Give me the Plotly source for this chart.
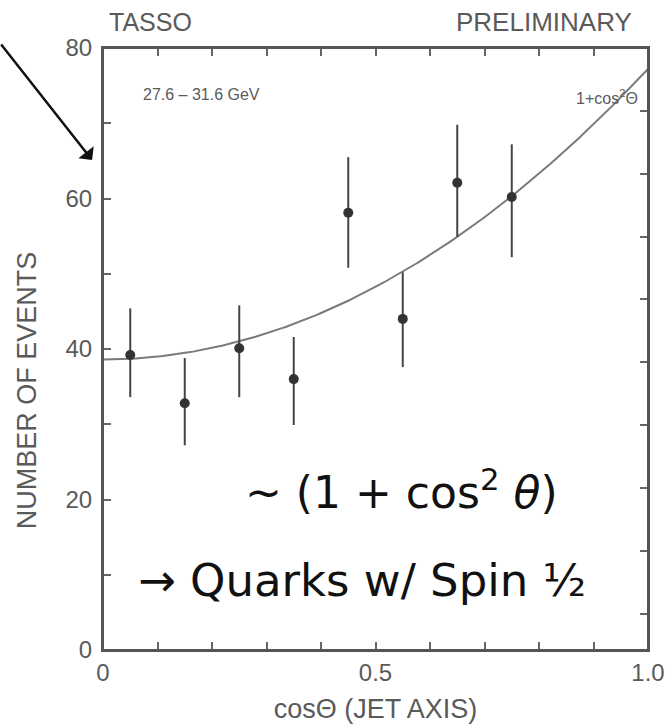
import numpy as np
import plotly.graph_objects as go

# Data
cos_theta = [0.05, 0.15, 0.25, 0.35, 0.45, 0.55, 0.65, 0.75]
events = [39.2, 32.8, 40.1, 36.0, 58.1, 44.0, 62.1, 60.2]
err_up = [6.2, 6.0, 5.7, 5.6, 7.4, 6.2, 7.7, 7.0]
err_dn = [5.6, 5.6, 6.5, 6.1, 7.3, 6.4, 7.2, 8.0]
fit_norm = 38.6  # A in A*(1+cos^2 theta)

x_ticks = [0, 0.5, 1.0]
x_ticklabels = ["0", "0.5", "1.0"]
y_ticks = [0, 20, 40, 60, 80]
right_ticks = [80 - 8.35 * k for k in range(1, 10)]

xc = np.linspace(0, 1, 201)
yc = fit_norm * (1 + xc ** 2)

fig = go.Figure()
fig.add_trace(go.Scatter(x=xc, y=yc, mode="lines",
                         line=dict(color="#7a7a7a", width=2), hoverinfo="skip"))
fig.add_trace(go.Scatter(
    x=cos_theta, y=events, mode="markers",
    marker=dict(color="#333333", size=10),
    error_y=dict(type="data", symmetric=False, array=err_up, arrayminus=err_dn,
                 color="#444444", thickness=2, width=0)))
fig.add_trace(go.Scatter(x=[0], y=[0], yaxis="y2", mode="markers",
                         marker=dict(opacity=0), hoverinfo="skip"))

FONT = "Liberation Sans, Arial, sans-serif"
GREY = "#5a5a5a"
tickfont = dict(family=FONT, size=24, color=GREY)
tk = dict(ticks="inside", ticklen=8, tickwidth=1.5, tickcolor="#666")

fig.update_layout(
    width=667, height=727,
    margin=dict(l=103, r=19, t=48, b=77),
    paper_bgcolor="white", plot_bgcolor="white",
    showlegend=False,
    xaxis=dict(range=[0, 1], tickvals=x_ticks, ticktext=x_ticklabels, **tk,
               minor=dict(dtick=0.1, **tk),
               showline=True, linecolor="#555", linewidth=2, mirror="ticks",
               showgrid=False, zeroline=False, tickfont=tickfont, automargin=False,
               ticklabeloverflow="allow",
               title=dict(text="cosΘ (JET AXIS)", font=dict(family=FONT, size=27, color=GREY),
                          standoff=14)),
    yaxis=dict(range=[0, 80], tickvals=y_ticks, **tk,
               minor=dict(dtick=10, **tk),
               showline=True, linecolor="#555", linewidth=2, mirror=True,
               showgrid=False, zeroline=False, tickfont=tickfont, automargin=False,
               ticklabelstandoff=4, ticklabeloverflow="allow"),
    yaxis2=dict(range=[0, 80], overlaying="y", side="right",
                tickvals=right_ticks, showticklabels=False, **tk,
                showgrid=False, zeroline=False,
                showline=True, linecolor="#555", linewidth=2),
)

# plot frame
fig.add_shape(type="rect", xref="paper", yref="paper", x0=0, x1=1, y0=0, y1=1,
              line=dict(color="#555", width=2), layer="above")

anns = [
    dict(text="NUMBER OF EVENTS", x=-0.139, y=0.432, textangle=-90,
         xanchor="center", yanchor="middle",
         font=dict(family=FONT, size=27, color=GREY)),
    dict(text="TASSO", x=0.007, y=1.043, xanchor="left", yanchor="middle",
         font=dict(family=FONT, size=25, color=GREY)),
    dict(text="PRELIMINARY", x=0.975, y=1.043, xanchor="right", yanchor="middle",
         font=dict(family=FONT, size=26, color=GREY)),
    dict(text="27.6 – 31.6 GeV", x=0.07, y=0.923, xanchor="left", yanchor="middle",
         font=dict(family=FONT, size=16, color=GREY)),
    dict(text="1+cos<sup>2</sup>Θ", x=0.985, y=0.918, xanchor="right", yanchor="middle",
         font=dict(family=FONT, size=16, color=GREY)),
    dict(text="~ (1 + cos<sup>2</sup> <i>θ</i>)", x=0.547, y=0.266, xanchor="center", yanchor="middle",
         font=dict(family="DejaVu Sans", size=44, color="#111")),
    dict(text="→ Quarks w/ Spin ½", x=0.475, y=0.116, xanchor="center", yanchor="middle",
         font=dict(family="DejaVu Sans", size=45, color="#111")),
]
for a in anns:
    a.update(xref="paper", yref="paper", showarrow=False)
    fig.add_annotation(**a)

fig.add_annotation(x=-0.020, y=0.814, xref="paper", yref="paper",
                   ax=-96, ay=-117, axref="pixel", ayref="pixel",
                   showarrow=True, arrowhead=1, arrowsize=1.3, arrowwidth=2.5,
                   arrowcolor="#111", text="")

fig.write_html("out.html", config={"displayModeBar": False},
               post_script="document.body.style.margin='0';document.body.style.overflow='hidden';")
